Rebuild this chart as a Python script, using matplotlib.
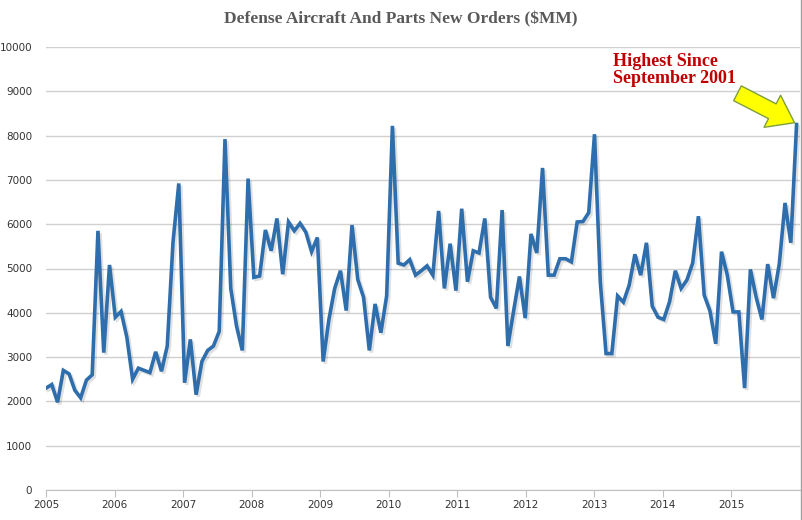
import matplotlib
matplotlib.use("Agg")
import matplotlib.pyplot as plt
import matplotlib.patheffects as pe
import numpy as np

values = [
2300,2380,1980,2700,2620,2250,2080,2480,2600,5850,3100,5080,
3900,4030,3450,2500,2750,2700,2650,3120,2680,3250,5600,6920,
2420,3400,2150,2900,3150,3250,3580,7920,4550,3700,3150,7030,
4800,4830,5870,5400,6130,4870,6050,5850,6020,5820,5380,5700,
2900,3850,4550,4950,4050,5980,4750,4350,3150,4200,3550,4380,
8220,5120,5080,5200,4850,4950,5060,4850,6300,4550,5560,4500,
6350,4700,5400,5350,6130,4350,4100,6320,3250,4050,4820,3880,
5780,5350,7270,4850,4850,5220,5220,5150,6050,6060,6260,8030,
4700,3080,3080,4380,4240,4620,5320,4850,5580,4150,3900,3850,
4250,4950,4550,4740,5120,6180,4400,4040,3300,5380,4850,4020,
4020,2300,4980,4350,3850,5100,4330,5100,6480,5580,8250]
years = list(range(2005, 2016))
yticks = list(range(0, 10001, 1000))

fig = plt.figure(figsize=(8.02, 5.2), dpi=100)
ax = fig.add_axes([46/802, 30/520, 754/802, 443/520])
step = 10.95 / (len(values) - 1)
x = 2005 + np.arange(len(values)) * step
ax.plot(x, values, color="#2F6EAD", lw=2.6, solid_joinstyle="miter",
        path_effects=[pe.SimpleLineShadow(offset=(1.5, -1.5), alpha=0.12), pe.Normal()])
ax.set_ylim(0, 10000)
ax.set_xlim(2005, 2016.0)
ax.set_yticks(yticks)
ax.set_yticklabels([str(v) for v in yticks], fontsize=7.5, color="#333333")
ax.set_xticks(years)
ax.set_xticklabels([str(y) for y in years], fontsize=7.5, color="#333333")
ax.grid(axis="y", color="#d0d0d0", lw=1)
ax.set_axisbelow(True)
for s in ["top", "right", "left"]:
    ax.spines[s].set_visible(False)
ax.spines["bottom"].set_color("#c0c0c0")
ax.tick_params(axis="y", length=0, pad=10)
ax.tick_params(axis="x", length=5, color="#c0c0c0", pad=2)

fig.text(0.5, 0.962, "Defense Aircraft And Parts New Orders ($MM)", ha="center", va="center",
         fontsize=12.5, fontweight="bold", family="Liberation Serif", color="#595959")
fig.text(613/802, 1-70/520, "Highest Since\nSeptember 2001", ha="left", va="center",
         fontsize=13, fontweight="bold", family="Liberation Serif", color="#C00000", linespacing=1.05)
ax.annotate("", xy=(797/802, 1-124/520), xytext=(735/802, 1-92/520), xycoords="figure fraction",
            textcoords="figure fraction",
            arrowprops=dict(arrowstyle="simple,head_width=2.6,head_length=1.8,tail_width=1.2",
                            fc="#FFFF00", ec="#7F9F3F", lw=1))
fig.add_artist(plt.Line2D([801/802, 801/802], [0, 1], color="#a0a0a0", lw=1))
fig.savefig("out.png", dpi=100)
